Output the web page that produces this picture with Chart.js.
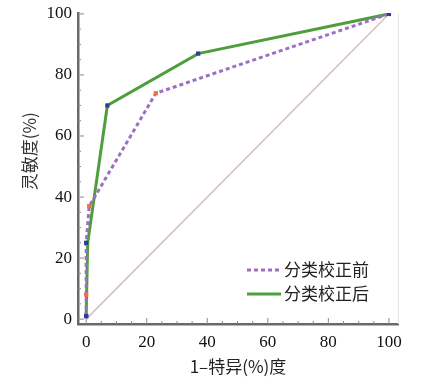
<!DOCTYPE html>
<html>
<head>
<meta charset="utf-8">
<script src="https://cdn.jsdelivr.net/npm/chart.js@4/dist/chart.umd.min.js"></script>
<style>
  html, body { margin: 0; padding: 0; background: #fff; }
  #wrap { width: 421px; height: 381px; }
</style>
</head>
<body>
<div id="wrap"><canvas id="roc" width="421" height="381"></canvas></div>
<script>
// ROC data (x = 1-specificity %, y = sensitivity %)
const beforeX = [0, 0, 0, 1, 23, 100];
const beforeY = [1, 8, 25, 37, 74, 100];
const beforeMarks = ['#2a3f9a', '#e8704a', '#2a3f9a', '#e8704a', '#e8704a', '#2a3f9a'];

const afterX = [0, 0.5, 7, 37, 100];
const afterY = [1, 25, 70, 87, 100];
const afterMarks = ['#2a3f9a', 'rgba(0,0,0,0)', '#2a3f9a', '#2a3f9a', '#2a3f9a'];

const diagX = [0, 100];
const diagY = [0, 100];

const tickValues = [0, 20, 40, 60, 80, 100];
const labels = ['分类校正前', '分类校正后'];
const yTitle = '灵敏度(%)';
const xTitle = '1–特异(%)度';

const xyPairs = (xs, ys) => xs.map((x, i) => ({ x: x, y: ys[i] }));
const cjk = '"Noto Sans CJK SC"';
const serif = '"Liberation Serif"';

// tick labels, minor ticks inside the axes, y title and a small legend
const axisDecor = {
  id: 'axisDecor',
  afterDraw(chart) {
    const ctx = chart.ctx;
    const xs = chart.scales.x, ys = chart.scales.y;
    const area = chart.chartArea;
    ctx.save();
    ctx.strokeStyle = '#8a8a8a';
    ctx.lineWidth = 1;
    for (let v = 0; v <= 100; v += 5) {
      const len = v % 20 === 0 ? 6 : 3;
      const px = xs.getPixelForValue(v);
      ctx.beginPath();
      ctx.moveTo(px, area.bottom);
      ctx.lineTo(px, area.bottom - len);
      ctx.stroke();
      const py = ys.getPixelForValue(v);
      ctx.beginPath();
      ctx.moveTo(area.left, py);
      ctx.lineTo(area.left + len, py);
      ctx.stroke();
    }
    // faint right frame
    ctx.strokeStyle = '#e4e4e4';
    ctx.beginPath();
    ctx.moveTo(area.right + 0.5, area.top);
    ctx.lineTo(area.right + 0.5, area.bottom);
    ctx.stroke();

    // tick labels in a Times-like face
    ctx.font = '17px ' + serif;
    ctx.fillStyle = '#111';
    ctx.textBaseline = 'middle';
    ctx.textAlign = 'center';
    tickValues.forEach(v => ctx.fillText(String(v), xs.getPixelForValue(v), area.bottom + 19));
    ctx.textAlign = 'right';
    tickValues.forEach(v => ctx.fillText(String(v), area.left - 6, ys.getPixelForValue(v)));

    // y title, sits a bit above the middle in the original
    ctx.save();
    ctx.translate(30, ys.getPixelForValue(55));
    ctx.rotate(-Math.PI / 2);
    ctx.font = '17px ' + cjk;
    ctx.fillStyle = '#333';
    ctx.textAlign = 'center';
    ctx.fillText(yTitle, 0, 0);
    ctx.restore();

    // legend
    const ds = chart.data.datasets;
    ctx.font = '17px ' + cjk;
    ctx.textAlign = 'left';
    [ds[0], ds[1]].forEach((d, i) => {
      const y = 270 + i * 24;
      ctx.strokeStyle = d.borderColor;
      ctx.lineWidth = 3;
      ctx.setLineDash(d.borderDash || []);
      ctx.beginPath();
      ctx.moveTo(247, y);
      ctx.lineTo(281, y);
      ctx.stroke();
      ctx.setLineDash([]);
      ctx.fillStyle = '#222';
      ctx.fillText(d.label, 284, y);
    });
    ctx.restore();
  }
};

new Chart(document.getElementById('roc'), {
  type: 'line',
  data: {
    datasets: [{
      label: labels[0],
      data: xyPairs(beforeX, beforeY),
      borderColor: '#9d6fc4',
      borderWidth: 3,
      borderDash: [4, 3],
      pointStyle: 'rect',
      pointRadius: 3,
      pointBorderWidth: 0,
      pointBackgroundColor: beforeMarks,
      fill: false,
      tension: 0,
      order: 1
    }, {
      label: labels[1],
      data: xyPairs(afterX, afterY),
      borderColor: '#4f9e3e',
      borderWidth: 3,
      pointStyle: 'rect',
      pointRadius: 3,
      pointBorderWidth: 0,
      pointBackgroundColor: afterMarks,
      fill: false,
      tension: 0,
      order: 2
    }, {
      label: 'ref',
      data: xyPairs(diagX, diagY),
      borderColor: '#d9bdbd',
      borderWidth: 1.5,
      pointRadius: 0,
      fill: false,
      order: 3
    }]
  },
  options: {
    responsive: false,
    animation: false,
    layout: { padding: { top: 13, right: 23, left: 0, bottom: 0 } },
    plugins: {
      legend: { display: false },
      tooltip: { enabled: false }
    },
    scales: {
      x: {
        type: 'linear',
        min: -2.7,
        max: 103,
        afterBuildTicks: s => { s.ticks = tickValues.map(v => ({ value: v })); },
        afterFit: s => { s.height = 57; },
        border: { color: '#6a6a6a', width: 2.5 },
        grid: { display: false },
        ticks: { display: false },
        title: {
          display: true,
          text: xTitle,
          color: '#222',
          padding: { top: 0, bottom: 4 },
          font: { family: cjk, size: 17 }
        }
      },
      y: {
        type: 'linear',
        min: -1.6,
        max: 100.3,
        afterBuildTicks: s => { s.ticks = tickValues.map(v => ({ value: v })); },
        afterFit: s => { s.width = 78; },
        border: { color: '#6a6a6a', width: 2.5 },
        grid: { display: false },
        ticks: { display: false }
      }
    }
  },
  plugins: [axisDecor]
});
</script>
</body>
</html>
